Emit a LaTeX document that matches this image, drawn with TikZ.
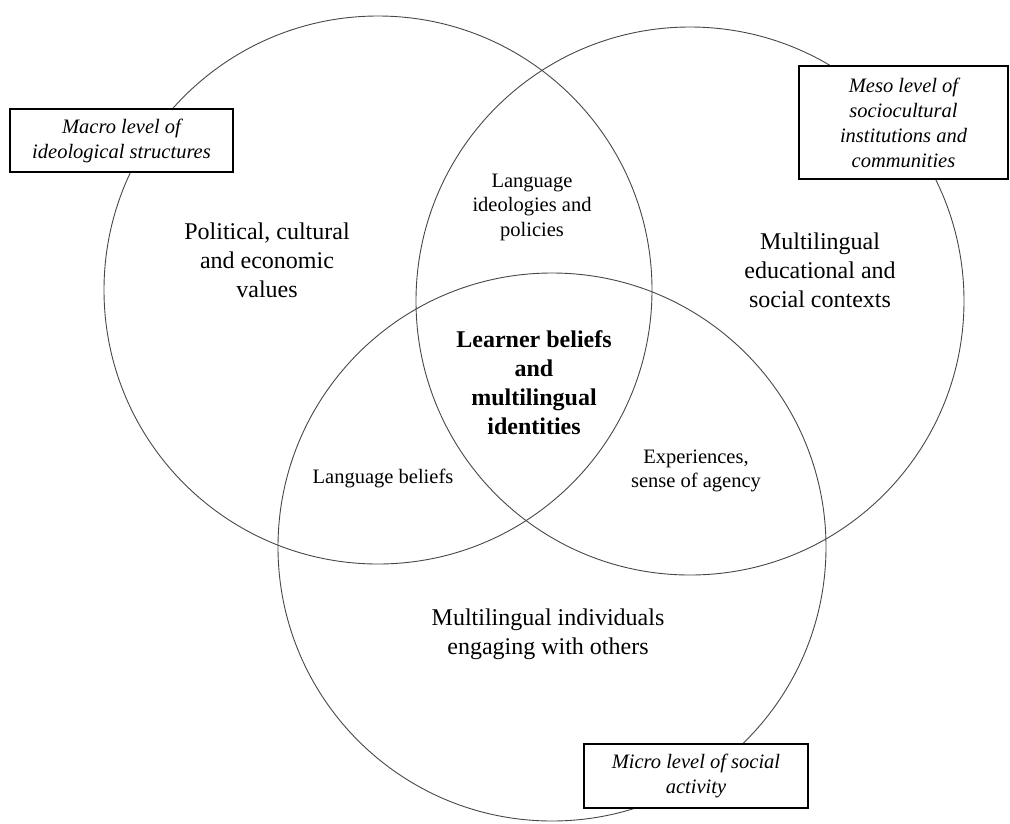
\documentclass[tikz,border=0pt]{standalone}
\usepackage{fontspec}
\setmainfont{Liberation Serif}
\begin{document}
\begin{tikzpicture}[x=1pt,y=-1pt,
  ring/.style={circle,draw=black!72,line width=0.9pt,minimum size=548pt,inner sep=0pt},
  big/.style={align=center,font=\fontsize{24}{29}\selectfont,inner sep=0pt},
  mid/.style={align=center,font=\fontsize{20.5}{24.5}\selectfont,inner sep=0pt},
  core/.style={align=center,font=\fontsize{24}{29}\selectfont\bfseries,inner sep=0pt},
  levelbox/.style={draw=black,line width=1.3pt,fill=white,align=center,
    font=\fontsize{20.5}{25}\selectfont\itshape,inner sep=0pt}]
\useasboundingbox (0,0) rectangle (1010,823);
% circles
\node[ring] (c1) at (378,290) {};
\node[ring] (c2) at (690,301) {};
\node[ring] (c3) at (552,547) {};
% level boxes
\node[levelbox,minimum width=223pt,minimum height=63pt] (macro) at (121.5,140.5) {Macro level of\\ideological structures};
\node[levelbox,minimum width=209pt,minimum height=113pt] (meso) at (903.5,122.5) {Meso level of\\sociocultural\\institutions and\\communities};
\node[levelbox,minimum width=224pt,minimum height=64pt] (micro) at (696,776) {Micro level of social\\activity};
% region texts
\node[big] (pol) at (267,260) {Political, cultural\\and economic\\values};
\node[big] (edu) at (820,270) {Multilingual\\educational and\\social contexts};
\node[big] (ind) at (548,634) {Multilingual individuals\\engaging with others};
\node[mid] (ideo) at (532,207) {Language\\ideologies and\\policies};
\node[mid] (lb) at (383,478) {Language beliefs};
\node[mid] (exp) at (696,471) {Experiences,\\sense of agency};
\node[core] (learner) at (534,383) {Learner beliefs\\and\\multilingual\\identities};
\end{tikzpicture}
\end{document}
